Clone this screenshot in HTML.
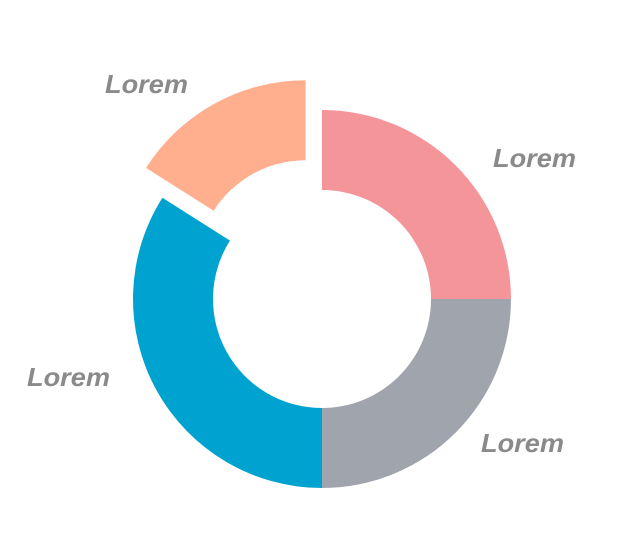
<!DOCTYPE html>
<html><head><meta charset="utf-8"><style>
html,body{margin:0;padding:0;background:#fff;}
svg{display:block;}
text{font-family:"Liberation Sans",sans-serif;font-weight:bold;font-style:italic;fill:#8a8a8a;font-size:26px;}
</style></head><body>
<svg id="chart" width="636" height="544" viewBox="0 0 636 544" xmlns="http://www.w3.org/2000/svg"></svg>
<script>
const categories = ["Lorem","Lorem","Lorem","Lorem"];
const values = [25, 25, 34, 16];
const colors = ["#F4959A","#A0A4AC","#00A3D0","#FFAF8E"];
const exploded = [0, 0, 0, 34];
const labelX = [493, 481, 27, 105];
const labelY = [167, 452, 386, 93];

const svg = document.getElementById('chart');
const NS = "http://www.w3.org/2000/svg";
const cx = 322, cy = 299, R = 189, r = 109;
const total = values.reduce((a,b)=>a+b,0);
function pt(rad, ang, ox, oy){ return [cx+ox+rad*Math.sin(ang), cy+oy-rad*Math.cos(ang)]; }
let start = 0;
values.forEach((v,i)=>{
  const a0 = start/total*2*Math.PI, a1 = (start+v)/total*2*Math.PI;
  start += v;
  const mid = (a0+a1)/2;
  const ox = exploded[i]*Math.sin(mid), oy = -exploded[i]*Math.cos(mid);
  const large = (a1-a0) > Math.PI ? 1 : 0;
  const p1 = pt(R,a0,ox,oy), p2 = pt(R,a1,ox,oy), p3 = pt(r,a1,ox,oy), p4 = pt(r,a0,ox,oy);
  const d = `M${p1[0]},${p1[1]} A${R},${R} 0 ${large} 1 ${p2[0]},${p2[1]} L${p3[0]},${p3[1]} A${r},${r} 0 ${large} 0 ${p4[0]},${p4[1]} Z`;
  const path = document.createElementNS(NS,'path');
  path.setAttribute('d', d);
  path.setAttribute('fill', colors[i]);
  
  
  svg.appendChild(path);
});
categories.forEach((c,i)=>{
  const t = document.createElementNS(NS,'text');
  t.setAttribute('x', labelX[i]);
  t.setAttribute('y', labelY[i]);
  t.setAttribute('textLength', 83);
  t.setAttribute('lengthAdjust', 'spacingAndGlyphs');
  t.textContent = c;
  
  
  svg.appendChild(t);
});
</script>
</body></html>
